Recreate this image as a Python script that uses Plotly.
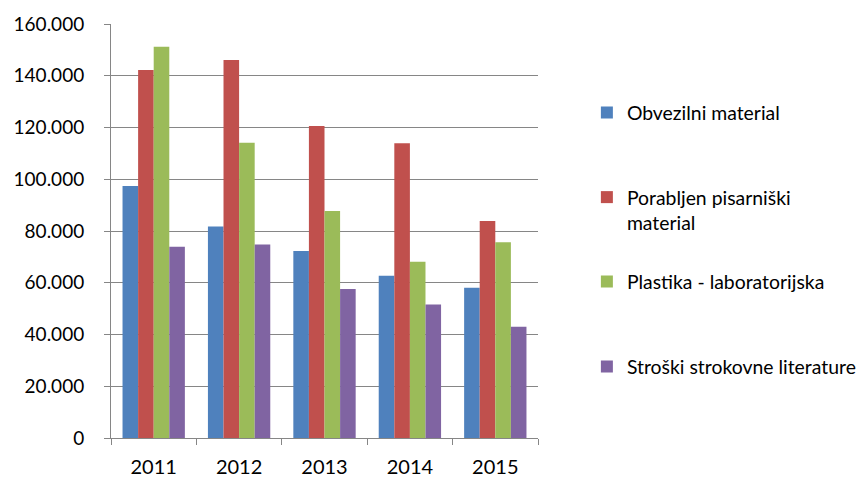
import plotly.graph_objects as go

years = ["2011", "2012", "2013", "2014", "2015"]
obvezilni = [97400, 81700, 72300, 62700, 58100]
porabljen = [142200, 146100, 120600, 113900, 83900]
plastika = [151200, 114100, 87700, 68100, 75700]
stroski = [73900, 74800, 57600, 51600, 43000]

series = [
    ("Obvezilni material", obvezilni, "#4F81BD"),
    ("Porabljen pisarniški<br>material", porabljen, "#C0504D"),
    ("Plastika - laboratorijska", plastika, "#9BBB59"),
    ("Stroški strokovne literature", stroski, "#8064A2"),
]

tick_vals = [0, 20000, 40000, 60000, 80000, 100000, 120000, 140000, 160000]
tick_text = ["0", "20.000", "40.000", "60.000", "80.000", "100.000", "120.000", "140.000", "160.000"]

legend_names = ["legend", "legend2", "legend3", "legend4"]
legend_y = [0.780, 0.5765, 0.4256, 0.2474]

fig = go.Figure()
for i, (name, vals, col) in enumerate(series):
    fig.add_trace(go.Bar(
        x=years, y=vals, name=name, marker_color=col,
        marker_line_width=0, legend=legend_names[i],
    ))

FAM = "Lato, Open Sans, sans-serif"
xfont = dict(family=FAM, size=20, color="#000000")
yfont = dict(family=FAM, size=19, color="#000000")
lfont = dict(family=FAM, size=19.4, color="#000000")

layout_legends = {}
for i, ln in enumerate(legend_names):
    layout_legends[ln] = dict(
        xref="container", yref="container",
        x=0.670, xanchor="left", y=legend_y[i], yanchor="middle",
        font=lfont, bgcolor="rgba(0,0,0,0)", valign="top",
    )

fig.update_layout(
    width=864, height=477,
    margin=dict(l=103, r=334, t=16, b=47),
    paper_bgcolor="white", plot_bgcolor="white",
    barmode="group", bargap=0.27, bargroupgap=0,
    font=xfont,
    showlegend=True,
    xaxis=dict(
        showline=True, linecolor="#868686", linewidth=1,
        ticks="outside", tickson="boundaries", ticklen=6, tickcolor="#868686",
        showgrid=False, tickfont=xfont, ticklabelstandoff=11, automargin=False,
    ),
    yaxis=dict(
        range=[0, 160000], tickvals=tick_vals, ticktext=tick_text,
        showline=True, linecolor="#868686", linewidth=1,
        ticks="outside", ticklen=6, tickcolor="#868686",
        showgrid=True, gridcolor="#868686", gridwidth=1,
        zeroline=False, tickfont=yfont, ticklabelstandoff=16, automargin=False,
    ),
    **layout_legends,
)

fig.write_html("out.html")
